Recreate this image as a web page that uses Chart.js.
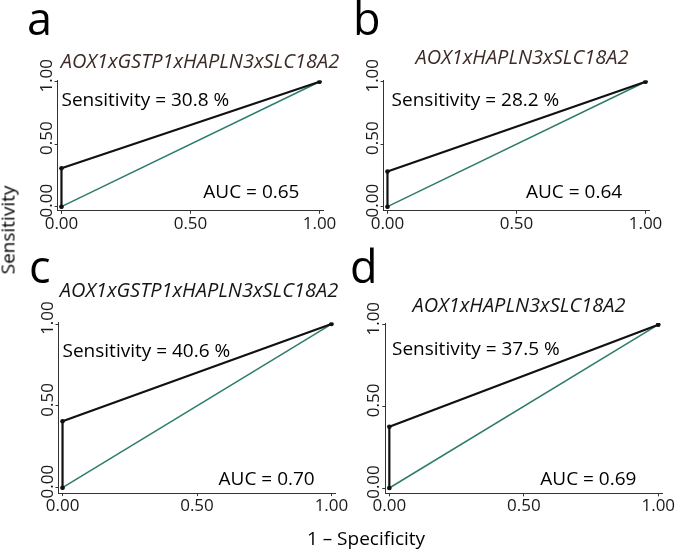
<!DOCTYPE html>
<html>
<head>
<meta charset="utf-8">
<script src="https://cdn.jsdelivr.net/npm/chart.js@4.4.1/dist/chart.umd.min.js"></script>
<style>
  html, body { margin: 0; padding: 0; background: #fff; }
  #wrap { position: relative; width: 685px; height: 552px; overflow: hidden; font-family: 'Open Sans', sans-serif; }
  #wrap canvas { position: absolute; left: 0; top: 0; }
  .axis-title { position: absolute; font-size: 19px; color: #000; white-space: nowrap; line-height: 1; }
  #xTitle { left: 366px; top: 538px; transform: translate(-50%, -50%); }
  #yTitle { left: 8px; top: 230px; transform: translate(-50%, -50%) rotate(-90deg); }
</style>
</head>
<body>
<div id="wrap">
  <canvas id="rocA" width="685" height="552"></canvas>
  <canvas id="rocB" width="685" height="552"></canvas>
  <canvas id="rocC" width="685" height="552"></canvas>
  <canvas id="rocD" width="685" height="552"></canvas>
  <div class="axis-title" id="xTitle">1 – Specificity</div>
  <div class="axis-title" id="yTitle">Sensitivity</div>
</div>
<script>
// --- data ---
const panelLetters = ['a', 'b', 'c', 'd'];
const panelTitles = ['AOX1xGSTP1xHAPLN3xSLC18A2', 'AOX1xHAPLN3xSLC18A2', 'AOX1xGSTP1xHAPLN3xSLC18A2', 'AOX1xHAPLN3xSLC18A2'];
const rocFpr = [0, 0, 1];            // 1 - specificity
const rocTpr = [                     // sensitivity
  [0, 0.308, 1],
  [0, 0.282, 1],
  [0, 0.406, 1],
  [0, 0.375, 1]
];
const chanceLine = [0, 1];
const sensLabels = ['30.8', '28.2', '40.6', '37.5'];
const aucLabels = ['0.65', '0.64', '0.70', '0.69'];
const tickValues = [0, 0.5, 1];
const tickLabels = ['0.00', '0.50', '1.00'];

// --- layout (pixels / data anchors for the text) ---
const W = 685, H = 552;
const X_AXIS_H = 30;
const layout = [
  { id: 'rocA', area: [57.6, 80.5, 323.4, 210.8], title: [200, 62], titleColor: '#3b2a25', letter: [27, 35], sens: [0, 0.85], auc: [0.736, 0.11] },
  { id: 'rocB', area: [383.6, 80.5, 649.4, 210.8], title: [522, 58], titleColor: '#3b2a25', letter: [353, 35], sens: [0.016, 0.85], auc: [0.723, 0.11] },
  { id: 'rocC', area: [58.5, 322.4, 335.5, 493.1], title: [199, 291], titleColor: '#151515', letter: [29, 283], sens: [0, 0.83], auc: [0.759, 0.05] },
  { id: 'rocD', area: [385.3, 323.1, 662.3, 493.4], title: [519, 306], titleColor: '#151515', letter: [350, 283], sens: [0.01, 0.85], auc: [0.74, 0.05] }
];
const FONT = "'Open Sans', sans-serif";
const TEAL = '#2e7b6c';
const INK = '#000';

const panelText = {
  id: 'panelText',
  afterDraw(chart, args, opts) {
    const p = opts.panel;
    const L = layout[p];
    const ctx = chart.ctx;
    const xs = chart.scales.x, ys = chart.scales.y;
    ctx.save();
    // y tick labels, rotated like ggplot's angle = 90
    ctx.fillStyle = '#1a1a1a';
    ctx.font = '17px ' + FONT;
    ctx.textAlign = 'center';
    ctx.textBaseline = 'alphabetic';
    tickValues.forEach((v, i) => {
      ctx.save();
      ctx.translate(chart.chartArea.left - 6, ys.getPixelForValue(v) - 6);
      ctx.rotate(-Math.PI / 2);
      ctx.fillText(tickLabels[i], 0, 0);
      ctx.restore();
    });
    // panel letter
    ctx.fillStyle = '#000';
    ctx.textAlign = 'left';
    ctx.font = '45px ' + FONT;
    ctx.fillText(panelLetters[p], L.letter[0], L.letter[1]);
    // panel title
    ctx.fillStyle = L.titleColor;
    ctx.font = 'italic 20px ' + FONT;
    ctx.textAlign = 'center';
    ctx.textBaseline = 'middle';
    ctx.fillText(panelTitles[p], L.title[0], L.title[1]);
    // annotations
    ctx.fillStyle = INK;
    ctx.font = '19px ' + FONT;
    ctx.textAlign = 'left';
    ctx.fillText('Sensitivity = ' + sensLabels[p] + ' %', xs.getPixelForValue(L.sens[0]), ys.getPixelForValue(L.sens[1]));
    ctx.textAlign = 'center';
    ctx.fillText('AUC = ' + aucLabels[p], xs.getPixelForValue(L.auc[0]), ys.getPixelForValue(L.auc[1]));
    ctx.restore();
  }
};

function axis(isX) {
  return {
    type: 'linear',
    min: isX ? -0.015 : -0.033,
    max: isX ? 1.015 : 1.01,
    afterFit(s) { if (isX) s.height = X_AXIS_H; else s.width = 0; },
    afterBuildTicks(s) { s.ticks = tickValues.map(v => ({ value: v })); },
    grid: { drawOnChartArea: false, drawTicks: true, tickLength: 3, color: '#333', tickWidth: 1 },
    border: { display: true, color: '#333', width: 1 },
    ticks: {
      display: isX,
      autoSkip: false,
      maxRotation: 0,
      padding: 0,
      color: '#1a1a1a',
      font: { family: FONT, size: 17 },
      callback: (v, i) => tickLabels[i]
    }
  };
}

layout.forEach((L, p) => {
  const [l, t, r, b] = L.area;
  new Chart(document.getElementById(L.id), {
    type: 'scatter',
    data: {
      datasets: [
        {
          data: rocFpr.map((x, i) => ({ x, y: rocTpr[p][i] })),
          showLine: true,
          borderColor: '#111',
          borderWidth: 2.2,
          pointRadius: 2.3,
          pointBackgroundColor: '#111',
          pointBorderWidth: 0
        },
        {
          data: chanceLine.map(v => ({ x: v, y: v })),
          showLine: true,
          borderColor: TEAL,
          borderWidth: 1.5,
          pointRadius: 2,
          pointBackgroundColor: '#1f4a42',
          pointBorderWidth: 0
        }
      ]
    },
    options: {
      responsive: false,
      animation: false,
      events: [],
      layout: { padding: { left: l, top: t, right: W - r, bottom: H - b - X_AXIS_H } },
      plugins: {
        legend: { display: false },
        tooltip: { enabled: false },
        panelText: { panel: p }
      },
      scales: { x: axis(true), y: axis(false) }
    },
    plugins: [panelText]
  });
});
</script>
</body>
</html>
